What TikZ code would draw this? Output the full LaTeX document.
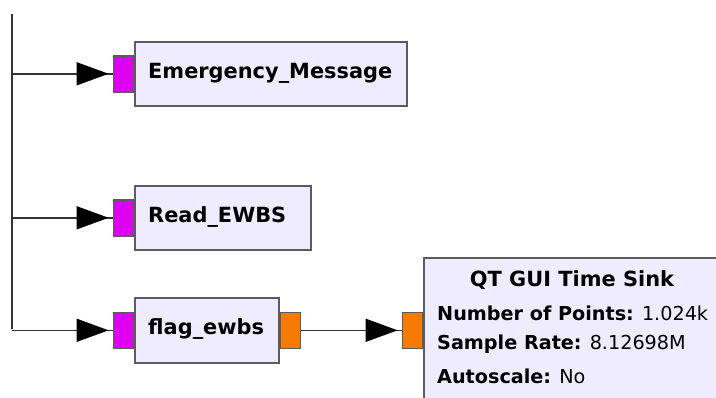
\documentclass[tikz,border=0pt]{standalone}
\usepackage{fontspec}
\setmainfont{DejaVu Sans}
\usetikzlibrary{arrows.meta,decorations.markings}

\definecolor{blockfill}{HTML}{F0ECFF}
\definecolor{blockedge}{HTML}{5C5C5C}
\definecolor{msgport}{HTML}{DF00F0}
\definecolor{floatport}{HTML}{F57A00}
\definecolor{wire}{HTML}{333333}

\tikzset{
  block/.style={draw=blockedge, fill=blockfill, line width=1.6pt, inner sep=0pt, anchor=north west},
  port/.style={draw=blockedge, line width=1.4pt, inner sep=0pt, minimum width=20pt, minimum height=36pt, anchor=east},
  msg/.style={port, fill=msgport},
  flt/.style={port, fill=floatport},
  title/.style={font=\fontsize{20.9}{21}\selectfont\bfseries, text=black, inner sep=0pt},
  prop/.style={font=\fontsize{19.2}{19}\selectfont, text=black, inner sep=0pt, anchor=west},
  conn/.style={draw=wire, line width=1.6pt, postaction={decorate},
    decoration={markings, mark=at position -4pt with {\arrow{Triangle[length=32pt,width=23pt,color=black]}}}},
  bus/.style={draw=wire, line width=1.6pt}
}

\begin{document}
\begin{tikzpicture}[x=1pt, y=-1pt]
  \clip (0,0) rectangle (716,397);
  \fill[white] (0,0) rectangle (716,397);

  % message blocks
  \node[block, minimum width=272pt, minimum height=64pt] (emsg) at (134,41) {};
  \node[block, minimum width=176pt, minimum height=64pt] (rd) at (134,185) {};
  \node[block, minimum width=144pt, minimum height=65pt] (flag) at (134,297) {};
  \node[block, minimum width=300pt, minimum height=170pt] (sink) at (423,257) {};

  % block names
  \node[title, anchor=west] (emsgt) at (148,73) {Emergency\_Message};
  \node[title, anchor=west] (rdt) at (148,217) {Read\_EWBS};
  \node[title, anchor=west] (flagt) at (148,329.5) {flag\_ewbs};

  % sink parameters
  \node[title] (sinkt) at (572,280) {QT GUI Time Sink};
  \node[prop] (np) at (437,313) {\textbf{Number of Points:} 1.024k};
  \node[prop] (sr) at (437,344) {\textbf{Sample Rate:} 8.12698M};
  \node[prop] (as) at (437,376) {\textbf{Autoscale:} No};

  % ports
  \node[msg] (emsgin) at (emsg.west) {};
  \node[msg] (rdin) at (rd.west) {};
  \node[msg] (flagin) at (flag.west) {};
  \node[flt, anchor=west] (flagout) at (flag.east) {};
  \node[flt] (sinkin) at (sink.west |- flagout) {};

  % message bus
  \coordinate (top) at (12,14);
  \coordinate (j1) at (12,73);
  \coordinate (j2) at (12,217);
  \coordinate (j3) at (12,329);
  \draw[bus] (top) -- (j3);
  \path[conn] (j1 |- emsgin) -- (emsgin.west);
  \path[conn] (j2 |- rdin) -- (rdin.west);
  \path[conn] (j3 |- flagin) -- (flagin.west);
  \path[conn] (flagout.east) -- (sinkin.west);
\end{tikzpicture}
\end{document}
